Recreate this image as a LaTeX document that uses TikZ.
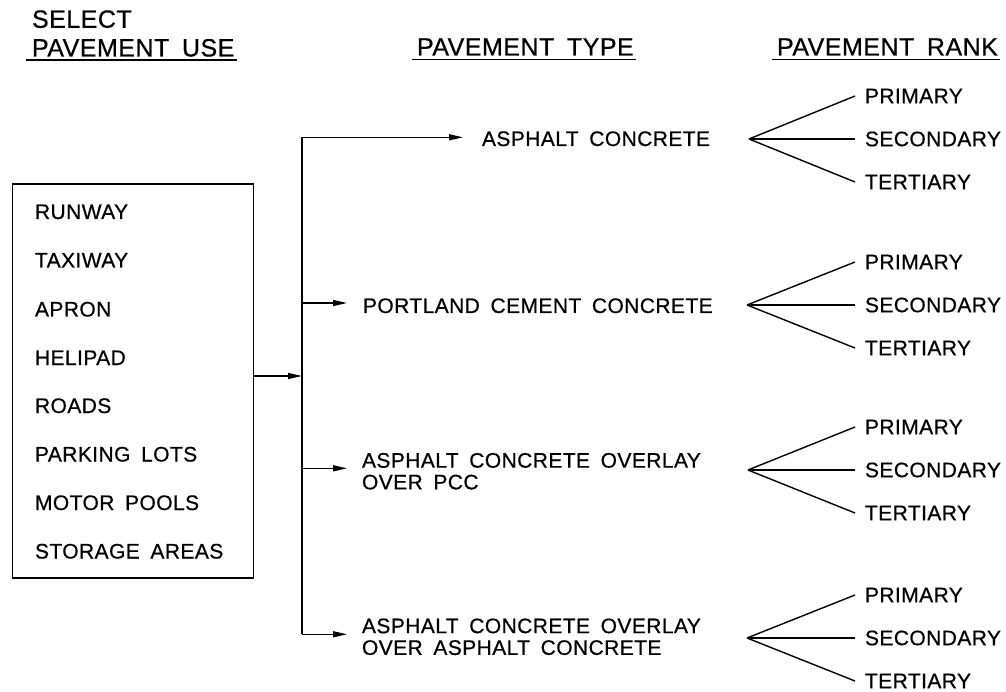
\documentclass[tikz,border=0pt]{standalone}
\usepackage{fontspec}
\setmainfont{Liberation Sans}[LetterSpace=2,WordSpace=1.7,FakeBold=0.6]
\usetikzlibrary{arrows.meta,calc}

\begin{document}
\begin{tikzpicture}[x=1pt,y=-1pt,
  line width=1.4pt,
  every node/.style={inner sep=0pt, outer sep=0pt},
  body/.style={font=\fontsize{21}{21.7}\selectfont, align=left},
  head/.style={font=\fontsize{25}{28.7}\selectfont, align=left},
  arr/.style={-{Triangle[length=14pt,width=6pt]}},
  uline/.style={line width=1.9pt},
  boxstyle/.style={draw, minimum width=241pt, minimum height=394pt},
]
\useasboundingbox (0,0) rectangle (1006,692);

% headers
\node[head, anchor=north west] (hUse) at (32,10.3) {SELECT\\PAVEMENT USE};
\node[head, anchor=base west] (hType) at (417,55.5) {PAVEMENT TYPE};
\node[head, anchor=base west] (hRank) at (777,55.5) {PAVEMENT RANK};
\draw[uline] ([xshift=-6pt,yshift=-3pt]hUse.south west) -- ([xshift=3pt,yshift=-3pt]hUse.south east);
\draw[uline] ([xshift=-5pt,yshift=-4pt]hType.base west) -- ([xshift=2pt,yshift=-4pt]hType.base east);
\draw[uline] ([xshift=-5pt,yshift=-4pt]hRank.base west) -- ([xshift=2pt,yshift=-4pt]hRank.base east);

% pavement use box
\node[boxstyle, anchor=north west] (box) at (12.3,184) {};
\node[body, anchor=base west] (u1) at (35,219) {RUNWAY};
\node[body, anchor=base west] (u2) at (35,267.5) {TAXIWAY};
\node[body, anchor=base west] (u3) at (35,316.5) {APRON};
\node[body, anchor=base west] (u4) at (35,365) {HELIPAD};
\node[body, anchor=base west] (u5) at (35,413) {ROADS};
\node[body, anchor=base west] (u6) at (35,461.5) {PARKING LOTS};
\node[body, anchor=base west] (u7) at (35,510) {MOTOR POOLS};
\node[body, anchor=base west] (u8) at (35,558.5) {STORAGE AREAS};

% bus
\coordinate (j1) at (302,137.3);
\coordinate (j2) at (302,303);
\coordinate (j3) at (302,468.3);
\coordinate (j4) at (302,634.3);
\coordinate (jin) at (302,376);
\draw (j1) -- (j4);
\draw[arr] (box.east |- jin) -- (jin);

% pavement types
\node[body, anchor=base west] (t1) at (482,146) {ASPHALT CONCRETE};
\node[body, anchor=base west] (t2) at (363,313) {PORTLAND CEMENT CONCRETE};
\node[body, anchor=north west] (t3) at (362,453) {ASPHALT CONCRETE OVERLAY\\OVER PCC};
\node[body, anchor=north west] (t4) at (362,618.5) {ASPHALT CONCRETE OVERLAY\\OVER ASPHALT CONCRETE};

\draw[arr] (j1) -- ([xshift=-19pt]t1.west |- j1);
\draw[arr] (j2) -- ([xshift=-16pt]t2.west |- j2);
\draw[arr] (j3) -- ([xshift=-15pt]t3.west |- j3);
\draw[arr] (j4) -- ([xshift=-15pt]t4.west |- j4);

% ranks
\foreach \i/\ax/\y in {1/749/139,2/747/305,3/748/470,4/747/638}{
  \coordinate (f\i) at (\ax,\y);
  \node[body, anchor=west] (p\i) at (865,\y-43) {PRIMARY};
  \node[body, anchor=west] (s\i) at (865,\y) {SECONDARY};
  \node[body, anchor=west] (r\i) at (865,\y+43) {TERTIARY};
  \draw (f\i) -- ([xshift=-10pt]p\i.west);
  \draw (f\i) -- ([xshift=-10pt]s\i.west);
  \draw (f\i) -- ([xshift=-10pt]r\i.west);
}
\end{tikzpicture}
\end{document}
